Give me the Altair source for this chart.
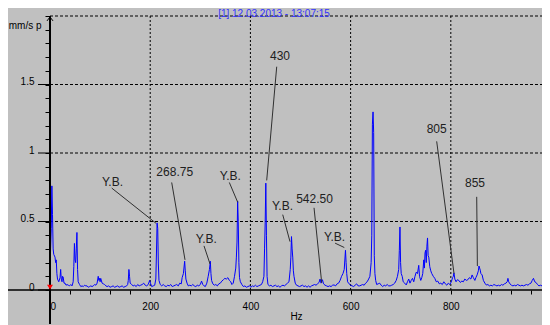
import altair as alt
import pandas as pd

# ---- spectrum (Hz, mm/s peak) ----
hz = [0, 2.5, 3.75, 5, 6.25, 7.5, 10, 11.25, 12.5, 13.75, 15, 17.5, 20, 21.25, 22.5, 24, 25, 26.25, 28, 30,
      32, 34, 36.5, 39, 41.5, 44, 46.25, 47.5, 48.75, 50, 51.25, 52.5, 53.75, 55, 56.25, 59, 61.5, 64, 66.5, 69,
      71.5, 74, 76.5, 79, 81.5, 84, 86.5, 89, 91.5, 94, 96.25, 97.5, 98.75, 100, 101.25, 104, 106.5, 109, 111.5, 114,
      117, 120, 123, 126, 129, 132, 135, 138, 141, 144, 147, 150, 153, 155, 156.25, 157.5, 158.75, 160, 163, 166,
      169, 172, 175, 178, 181, 184, 187, 190, 193, 196, 199, 200.5, 203, 206, 209, 211.25, 212.5, 213.75, 215, 216.25,
      217.5, 220, 223, 226, 229, 232, 235, 238, 241, 244, 247, 250, 253, 256, 259, 262, 263.75, 266.25, 268.75, 270,
      271.25, 273.5, 276, 279, 282, 285, 288, 291, 294, 297, 300, 302.5, 305, 307.5, 310, 313, 315.75, 318.25, 320, 321.25,
      322.5, 325, 328, 331, 334, 337, 340, 343, 346, 349, 352, 355, 358, 360.75, 363, 365.75, 368.25, 370.75, 372, 373.25,
      374.5, 375.75, 377, 378.25, 380, 383, 386, 389, 392, 395, 398, 401, 404, 407, 410, 413, 416, 419, 422, 424.5,
      427, 428.25, 429.5, 430.75, 432, 433.25, 435, 438, 441, 444, 447, 450, 453, 456, 459, 462, 465, 468, 471, 474,
      477, 479.5, 480.75, 482, 483.25, 484.5, 485.75, 487, 489.5, 492, 495, 498, 501, 504, 507, 510, 513, 516, 519, 522,
      525, 528, 531, 534, 537, 539, 541, 543.75, 546, 549, 552, 555, 558, 561, 564, 567, 570, 573, 576, 579,
      582, 584.75, 587.25, 589.75, 591, 592.25, 594, 597, 600, 603, 606, 609, 612, 615, 618, 621, 624, 627, 630, 633,
      636, 638.5, 641, 642.25, 643.5, 644.75, 646, 647.25, 648.5, 650, 652, 655, 658, 661, 664, 667, 670, 673, 676, 679,
      682, 685, 688, 691, 693.5, 696, 697.25, 698.5, 699.75, 701, 703, 705, 708, 711, 713.5, 716, 718.5, 721, 723.5, 726,
      728.5, 731, 733.5, 736, 737.5, 740, 742, 744, 746, 747.25, 748.5, 749.75, 751, 752.25, 753.5, 754.75, 756, 758, 760, 762,
      765, 768, 771, 774, 777, 780, 783, 786, 789, 792, 795, 798, 801, 803.5, 805, 806.25, 808, 810.5, 813, 816,
      819, 822, 825, 828, 831, 834, 837, 840, 842.5, 845, 848, 850, 852.5, 855, 856.25, 857.5, 858.75, 860, 862.5, 865,
      868, 871, 874, 877, 880, 883, 886, 889, 892, 895, 898, 901, 904, 907, 910, 912.5, 914, 915.5, 918, 921,
      924, 927, 930, 933, 936, 939, 942, 945, 948, 951, 954, 957, 960, 962.5, 965, 967.5, 970, 973, 976, 979,
      982, 985, 988, 991, 994, 997, 1000]
amp = [0.16, 0.45, 0.76, 0.55, 0.3, 0.26, 0.24, 0.2, 0.22, 0.12, 0.08, 0.06, 0.09, 0.15, 0.08, 0.06, 0.1, 0.095, 0.05, 0.05,
       0.035, 0.04, 0.035, 0.03, 0.04, 0.03, 0.06, 0.17, 0.34, 0.22, 0.2, 0.3, 0.42, 0.15, 0.06, 0.04, 0.025, 0.03, 0.025, 0.035,
       0.03, 0.03, 0.02, 0.025, 0.03, 0.025, 0.03, 0.04, 0.035, 0.05, 0.1, 0.07, 0.085, 0.06, 0.085, 0.05, 0.045, 0.04, 0.03, 0.025,
       0.03, 0.02, 0.025, 0.03, 0.02, 0.025, 0.03, 0.02, 0.025, 0.03, 0.02, 0.025, 0.03, 0.04, 0.07, 0.15, 0.1, 0.05, 0.04, 0.03,
       0.035, 0.025, 0.04, 0.03, 0.035, 0.04, 0.05, 0.035, 0.03, 0.04, 0.07, 0.05, 0.025, 0.03, 0.035, 0.08, 0.27, 0.49, 0.45, 0.19,
       0.07, 0.04, 0.03, 0.04, 0.03, 0.025, 0.035, 0.03, 0.04, 0.025, 0.03, 0.035, 0.04, 0.03, 0.05, 0.045, 0.09, 0.12, 0.21, 0.14,
       0.08, 0.05, 0.03, 0.035, 0.03, 0.04, 0.03, 0.025, 0.035, 0.03, 0.04, 0.065, 0.04, 0.03, 0.025, 0.05, 0.1, 0.15, 0.21, 0.12,
       0.07, 0.045, 0.035, 0.04, 0.03, 0.045, 0.05, 0.065, 0.075, 0.085, 0.08, 0.09, 0.07, 0.06, 0.04, 0.05, 0.1, 0.16, 0.24, 0.35,
       0.65, 0.5, 0.2, 0.09, 0.06, 0.04, 0.025, 0.03, 0.02, 0.025, 0.03, 0.02, 0.03, 0.025, 0.035, 0.025, 0.03, 0.035, 0.04, 0.06,
       0.1, 0.3, 0.49, 0.78, 0.4, 0.1, 0.04, 0.03, 0.035, 0.025, 0.03, 0.035, 0.025, 0.03, 0.02, 0.03, 0.035, 0.03, 0.04, 0.05,
       0.06, 0.15, 0.24, 0.39, 0.3, 0.24, 0.14, 0.1, 0.05, 0.035, 0.03, 0.025, 0.03, 0.035, 0.025, 0.03, 0.02, 0.03, 0.02, 0.03,
       0.035, 0.04, 0.035, 0.045, 0.055, 0.08, 0.05, 0.075, 0.045, 0.035, 0.03, 0.025, 0.03, 0.025, 0.035, 0.037, 0.03, 0.045, 0.05, 0.07,
       0.1, 0.12, 0.15, 0.29, 0.2, 0.12, 0.06, 0.045, 0.035, 0.03, 0.025, 0.035, 0.045, 0.03, 0.03, 0.035, 0.04, 0.035, 0.05, 0.06,
       0.08, 0.1, 0.2, 0.4, 1.21, 1.30, 1.15, 0.25, 0.12, 0.07, 0.04, 0.045, 0.05, 0.035, 0.025, 0.035, 0.03, 0.04, 0.03, 0.03,
       0.035, 0.04, 0.05, 0.07, 0.1, 0.15, 0.29, 0.46, 0.2, 0.12, 0.1, 0.06, 0.05, 0.037, 0.06, 0.08, 0.05, 0.07, 0.085, 0.06,
       0.1, 0.13, 0.12, 0.18, 0.1, 0.07, 0.09, 0.12, 0.22, 0.16, 0.27, 0.29, 0.2, 0.32, 0.38, 0.25, 0.24, 0.17, 0.14, 0.12,
       0.1, 0.085, 0.06, 0.065, 0.045, 0.05, 0.04, 0.06, 0.045, 0.035, 0.05, 0.04, 0.06, 0.09, 0.1, 0.125, 0.08, 0.06, 0.075, 0.07,
       0.055, 0.065, 0.06, 0.08, 0.07, 0.075, 0.09, 0.08, 0.11, 0.09, 0.07, 0.09, 0.11, 0.14, 0.175, 0.16, 0.145, 0.12, 0.11, 0.07,
       0.05, 0.036, 0.04, 0.03, 0.035, 0.03, 0.04, 0.035, 0.03, 0.035, 0.03, 0.04, 0.035, 0.045, 0.05, 0.06, 0.085, 0.06, 0.045, 0.035,
       0.03, 0.035, 0.03, 0.04, 0.035, 0.03, 0.035, 0.03, 0.035, 0.04, 0.035, 0.045, 0.05, 0.07, 0.085, 0.06, 0.055, 0.04, 0.03, 0.035,
       0.03, 0.025, 0.03, 0.035, 0.025, 0.03, 0.03]

# ---- axis ticks and grid ----
x_ticks = [0, 40, 80, 120, 160, 200, 240, 280, 320, 360, 400, 440, 480, 520, 560, 600, 640, 680, 720, 760,
           800, 840, 880, 920, 960]
y_ticks = [0, 0.1, 0.2, 0.3, 0.4, 0.5, 0.6, 0.7, 0.8, 0.9, 1.0, 1.1, 1.2, 1.3, 1.4, 1.5, 1.6, 1.7, 1.8, 1.9, 2.0]
grid_y = [0.5, 1.0, 1.5, 2.0]
grid_x = [200, 400, 600, 800]
major_y = [0, 0.5, 1.0, 1.5]
chart_title = ["[1] 12.03.2013 - 13:07:15"]

# ---- annotations ----
ann_label = ["Y.B.", "268.75", "Y.B.", "Y.B.", "430", "Y.B.", "542.50", "Y.B.", "805", "855"]
ann_tx = [124.7, 248.9, 312, 359.9, 459, 464, 528, 568, 771.8, 848.3]
ann_ty = [0.79, 0.861, 0.373, 0.834, 1.705, 0.614, 0.662, 0.388, 1.174, 0.78]
ann_x1 = [123.2, 242.9, 307.4, 357.9, 452.5, 464.5, 527, 569, 771.8, 851.7]
ann_y1 = [0.744, 0.785, 0.322, 0.785, 1.63, 0.55, 0.60, 0.342, 1.085, 0.68]
ann_x2 = [211.6, 269.5, 319.4, 374.7, 432.5, 479, 542.3, 587.4, 806.4, 853]
ann_y2 = [0.487, 0.22, 0.19, 0.64, 0.80, 0.353, 0.053, 0.31, 0.12, 0.175]

W, H = 492, 274
FONT = "Liberation Sans"

xs = alt.Scale(domain=[0, 982], nice=False, zero=False)
ys = alt.Scale(domain=[0, 2], nice=False)

x_axis = alt.Axis(values=x_ticks, labelExpr="datum.value % 200 == 0 ? format(datum.value, 'd') : ''",
                  labelAlign={"condition": {"test": "datum.value == 0", "value": "left"}, "value": "center"},
                  title="Hz", domain=False, grid=False, tickSize=4, tickColor="black",
                  labelColor="black", labelFont=FONT, labelFontSize=10, labelPadding=7,
                  labelOverlap=False, labelFlush=False,
                  titleFont=FONT, titleFontSize=10, titleFontWeight="normal", titleColor="black",
                  titlePadding=0)
y_axis = alt.Axis(values=y_ticks,
                  labelExpr="(round(datum.value*10) % 5 == 0 && datum.value < 1.95) ? format(datum.value, '~g') : ''",
                  title="mm/s p", titleAngle=0, titleAlign="right", titleBaseline="middle",
                  titleX=-9, titleY=9, titleFont=FONT, titleFontSize=10, titleFontWeight="normal",
                  titleColor="black", domain=False, grid=False, tickSize=5, tickColor="black",
                  labelColor="black", labelFont=FONT, labelFontSize=10, labelPadding=11,
                  labelBaseline="alphabetic", labelOverlap=False, labelFlush=False)

spec = pd.DataFrame({"hz": hz, "amp": amp})
one = pd.DataFrame({"k": [0]})

line = alt.Chart(spec).mark_line(color="#0000ff", strokeWidth=1, clip=True).encode(
    x=alt.X("hz:Q", scale=xs, axis=x_axis),
    y=alt.Y("amp:Q", scale=ys, axis=y_axis))

hgrid = alt.Chart(pd.DataFrame({"g": grid_y})).mark_rule(color="black", strokeDash=[3, 2], strokeWidth=1).encode(
    y=alt.Y("g:Q", scale=ys, axis=y_axis), x=alt.value(0), x2=alt.value(W))
vgrid = alt.Chart(pd.DataFrame({"g": grid_x})).mark_rule(color="black", strokeDash=[2, 2], strokeWidth=1).encode(
    x=alt.X("g:Q", scale=xs, axis=x_axis), y=alt.value(0), y2=alt.value(H))

ann = pd.DataFrame({"label": ann_label, "tx": ann_tx, "ty": ann_ty,
                    "x1": ann_x1, "y1": ann_y1, "x2": ann_x2, "y2": ann_y2})
lead = alt.Chart(ann).mark_rule(color="#303030", strokeWidth=1).encode(
    x=alt.X("x1:Q", scale=xs, axis=x_axis), y=alt.Y("y1:Q", scale=ys, axis=y_axis),
    x2="x2:Q", y2="y2:Q")
txt = alt.Chart(ann).mark_text(font=FONT, fontSize=12, color="#202020", baseline="middle", align="center").encode(
    x=alt.X("tx:Q", scale=xs, axis=x_axis), y=alt.Y("ty:Q", scale=ys, axis=y_axis), text="label:N")

major = alt.Chart(pd.DataFrame({"m": major_y})).mark_rule(color="black", strokeWidth=1).encode(
    y=alt.Y("m:Q", scale=ys, axis=y_axis), x=alt.value(-12), x2=alt.value(0))
xline = alt.Chart(one).mark_rule(color="black", strokeWidth=1.5).encode(
    y=alt.value(H), x=alt.value(-45), x2=alt.value(W + 10))
yline = alt.Chart(one).mark_rule(color="black", strokeWidth=2).encode(
    x=alt.value(0), y=alt.value(0), y2=alt.value(H + 34))
arrow = alt.Chart(one).mark_point(shape="M-1,1.3L0,0L1,1.3", size=36, filled=False, stroke="black",
                                  strokeWidth=1, opacity=1).encode(x=alt.value(0), y=alt.value(1))
marker = alt.Chart(one).mark_point(shape="M-1,-1.6L1,-1.6L0,0Z", size=36, filled=True, color="#ff0000",
                                   opacity=1).encode(x=alt.value(0), y=alt.value(H - 0.5))
title = alt.Chart(pd.DataFrame({"t": chart_title})).mark_text(
    font=FONT, fontSize=10, color="#3333ff", align="center", baseline="alphabetic").encode(
    x=alt.value(224), y=alt.value(1.2), text="t:N")

chart = alt.layer(hgrid, vgrid, line, lead, txt, major, xline, yline, arrow, marker, title).properties(
    width=W, height=H,
    autosize="none",
    padding={"left": 42, "top": 8, "right": 0, "bottom": 40},
    background="#c0c0c0",
).configure_view(stroke=None)

chart.save("out.html", embed_options={"renderer": "svg", "actions": False})
